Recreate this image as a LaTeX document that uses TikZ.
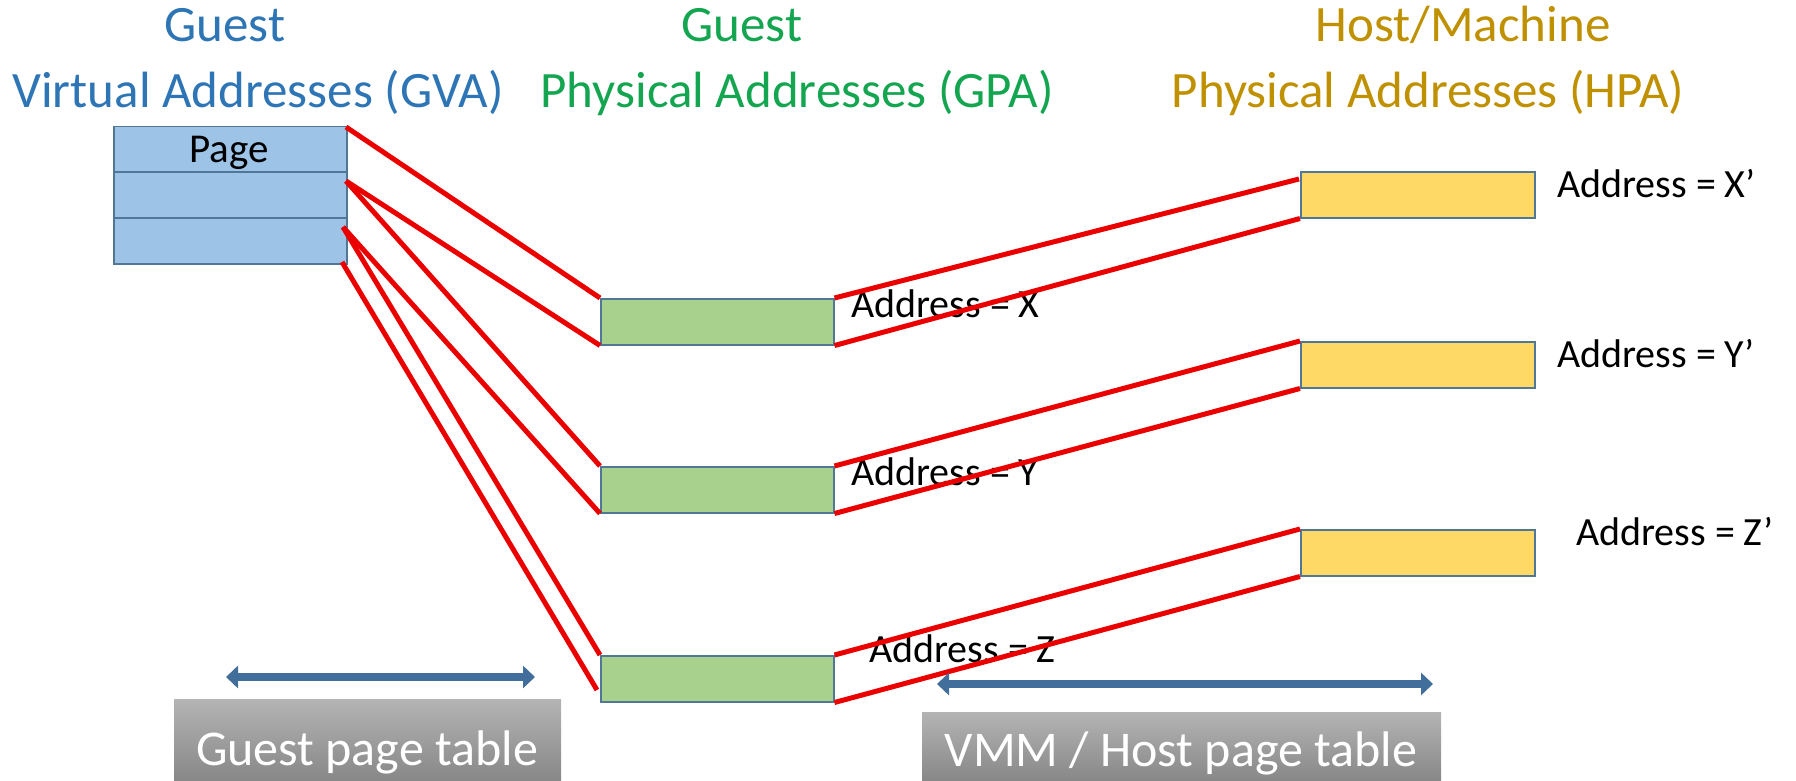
\documentclass[tikz,border=0pt]{standalone}
\usepackage{fontspec}
\setmainfont{Carlito}
\usetikzlibrary{arrows.meta}
\definecolor{gvablue}{RGB}{46,117,182}
\definecolor{gpagreen}{RGB}{20,165,80}
\definecolor{hpagold}{RGB}{191,144,0}
\definecolor{boxedge}{RGB}{80,120,150}
\definecolor{gvafill}{RGB}{157,195,230}
\definecolor{gpafill}{RGB}{169,209,142}
\definecolor{hpafill}{RGB}{255,217,102}
\definecolor{arrowblue}{RGB}{65,110,155}
\definecolor{linkred}{RGB}{235,0,0}
\definecolor{graytop}{RGB}{180,180,180}
\definecolor{graybot}{RGB}{135,135,135}
\begin{document}
\begin{tikzpicture}[x=1pt,y=-1pt,
  title/.style={anchor=base, inner sep=0, font=\fontsize{51}{61}\selectfont},
  lbl/.style={anchor=base west, inner sep=0, font=\fontsize{40}{48}\selectfont},
  cell/.style={draw=boxedge, line width=1.5pt, anchor=north west, inner sep=0},
  gvacell/.style={cell, fill=gvafill, minimum width=233pt},
  gpabox/.style={cell, fill=gpafill, minimum width=233pt, minimum height=46pt},
  hpabox/.style={cell, fill=hpafill, minimum width=234pt, minimum height=46pt},
  link/.style={draw=linkred, line width=5pt},
  span/.style={draw=arrowblue, line width=8pt, {Triangle[width=22pt,length=12pt]}-{Triangle[width=22pt,length=12pt]}},
  graybox/.style={anchor=north west, inner sep=0, top color=graytop, bottom color=graybot, draw=none},
  graytext/.style={anchor=base, inner sep=0, text=white, font=\fontsize{50}{60}\selectfont}
]
\useasboundingbox (0,0) rectangle (1796,781);

% titles
\node[title, text=gvablue] (t1a) at (225,42) {Guest};
\node[title, text=gvablue] (t1b) at (258,108) {Virtual Addresses (GVA)};
\node[title, text=gpagreen] (t2a) at (742,42) {Guest};
\node[title, text=gpagreen] (t2b) at (797,108) {Physical Addresses (GPA)};
\node[title, text=hpagold] (t3a) at (1463,42) {Host/Machine};
\node[title, text=hpagold] (t3b) at (1428,108) {Physical Addresses (HPA)};

% GVA page table
\node[gvacell, minimum height=45pt] (r1) at (113,126) {};
\node[gvacell, minimum height=46pt] (r2) at (113,171) {};
\node[gvacell, minimum height=46pt] (r3) at (113,217) {};
\node[anchor=base, inner sep=0, font=\fontsize{41}{48}\selectfont] (pg) at (229,163) {Page};

% GPA boxes
\node[gpabox] (gx) at (600,298) {};
\node[gpabox] (gy) at (600,466) {};
\node[gpabox] (gz) at (600,655) {};
\node[lbl] (lx) at (851,317) {Address = X};
\node[lbl] (ly) at (851,485) {Address = Y};
\node[lbl] (lz) at (869,662) {Address = Z};

% HPA boxes
\node[hpabox] (hx) at (1300,171) {};
\node[hpabox] (hy) at (1300,341) {};
\node[hpabox] (hz) at (1300,529) {};
\node[lbl] (lxp) at (1557,197) {Address = X’};
\node[lbl] (lyp) at (1557,367) {Address = Y’};
\node[lbl] (lzp) at (1576,545) {Address = Z’};

% connection points
\coordinate (p1) at (346,127);
\coordinate (p2) at (346,181);
\coordinate (p3) at (343,227);
\coordinate (p4) at (342,262);
\coordinate (zb) at (597,690);
\coordinate (xt) at (1299,179);

% guest page table links
\draw[link] (p1) -- (gx.north west);
\draw[link] (p2) -- (gx.south west);
\draw[link] (p2) -- (gy.north west);
\draw[link] (p3) -- (gy.south west);
\draw[link] (p3) -- (gz.north west);
\draw[link] (p4) -- (zb);

% host page table links
\draw[link] (gx.north east) -- (xt);
\draw[link] (gx.south east) -- (hx.south west);
\draw[link] (gy.north east) -- (hy.north west);
\draw[link] (gy.south east) -- (hy.south west);
\draw[link] (gz.north east) -- (hz.north west);
\draw[link] (gz.south east) -- (hz.south west);

% bottom spans
\coordinate (a1l) at (226,677);
\coordinate (a1r) at (535,677);
\coordinate (a2l) at (937,684);
\coordinate (a2r) at (1433,684);
\draw[span] (a1l) -- (a1r);
\draw[span] (a2l) -- (a2r);

\node[graybox, minimum width=387pt, minimum height=82pt] (gpt) at (174,699) {};
\node[graytext] (gptt) at (367,765) {Guest page table};
\node[graybox, minimum width=519pt, minimum height=69pt] (hpt) at (922,712) {};
\node[graytext] (hptt) at (1181,766) {VMM / Host page table};
\end{tikzpicture}
\end{document}
